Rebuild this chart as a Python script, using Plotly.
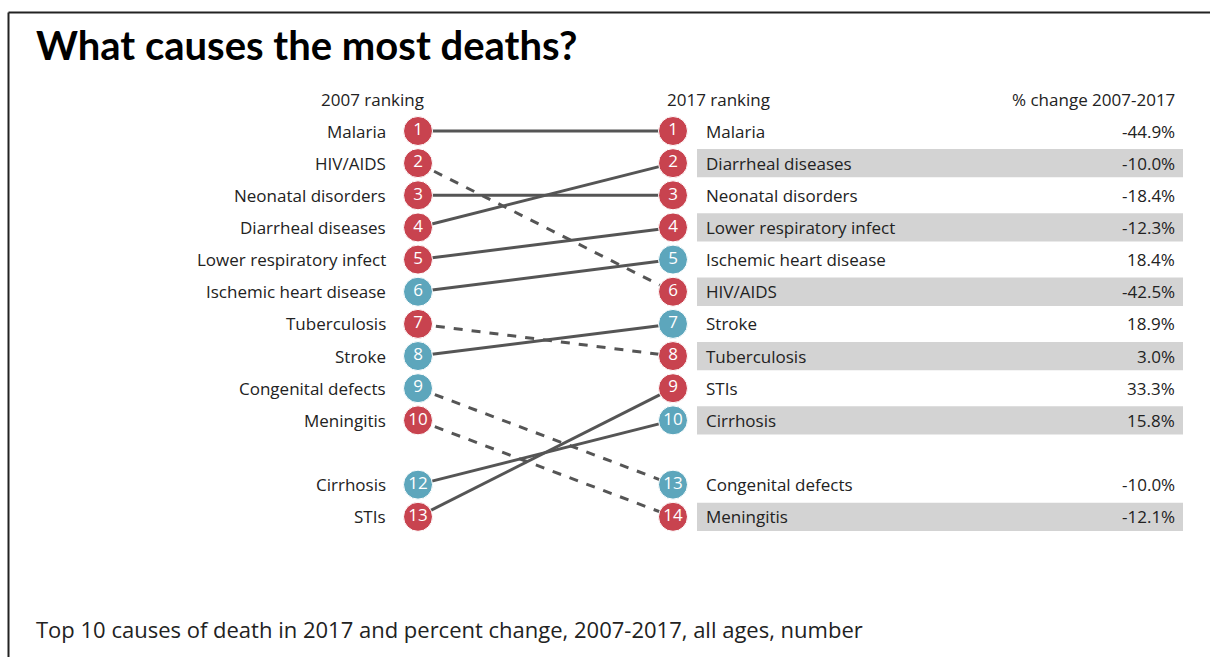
import plotly.graph_objects as go

# ---- data ----
causes = ["Malaria", "HIV/AIDS", "Neonatal disorders", "Diarrheal diseases",
          "Lower respiratory infect", "Ischemic heart disease", "Tuberculosis",
          "Stroke", "Congenital defects", "Meningitis", "Cirrhosis", "STIs"]
rank_2007 = [1, 2, 3, 4, 5, 6, 7, 8, 9, 10, 12, 13]
rank_2017 = [1, 6, 3, 2, 4, 5, 8, 7, 13, 14, 10, 9]
pct_change = [-44.9, -42.5, -18.4, -10.0, -12.3, 18.4, 3.0, 18.9, -10.0, -12.1, 15.8, 33.3]
group = ["comm", "comm", "comm", "comm", "comm", "ncd", "comm", "ncd", "ncd", "comm", "ncd", "comm"]

title = "What causes the most deaths?"
subtitle = "Top 10 causes of death in 2017 and percent change, 2007-2017, all ages, number"
headers = ["2007 ranking", "2017 ranking", "% change 2007-2017"]

colors = {"comm": "#c8434f", "ncd": "#5da6bc"}
W, H = 1210, 657
FONT = "Open Sans"
TFONT = "Lato"
TXT = "#222222"
FS = 17


def display_positions(ranks):
    order = sorted(range(len(ranks)), key=lambda i: ranks[i])
    pos = [0] * len(ranks)
    for k, i in enumerate(order):
        pos[i] = k + 1 if k < 10 else k + 2
    return pos, order


pos07, order07 = display_positions(rank_2007)
pos17, order17 = display_positions(rank_2017)

# pixel mapping
XL, XR = 418, 673
YT, DY = 131, 32.15
x_range = [-XL / (XR - XL), (W - XL) / (XR - XL)]
y_range = [1 + (H - YT) / DY, 1 - YT / DY]

fig = go.Figure()

# connecting lines
for i in range(len(causes)):
    dashed = rank_2017[i] > rank_2007[i]
    fig.add_trace(go.Scatter(
        x=[0, 1], y=[pos07[i], pos17[i]], mode="lines",
        line=dict(color="#555555", width=3, dash="dash" if dashed else "solid"),
        hoverinfo="skip", showlegend=False))

# circles
for xv, ranks, pos in [(0, rank_2007, pos07), (1, rank_2017, pos17)]:
    fig.add_trace(go.Scatter(
        x=[xv] * len(causes), y=pos, mode="markers+text",
        marker=dict(size=29, color=[colors[g] for g in group], line=dict(color="white", width=1)),
        text=[str(r) for r in ranks], textposition="middle center",
        textfont=dict(family=FONT, size=17, color="white"),
        hoverinfo="skip", showlegend=False))

shapes = []
annotations = []
band_x0 = 1 + (697 - XR) / (XR - XL)
band_x1 = 1 + (1183 - XR) / (XR - XL)
for k, i in enumerate(order17):
    if k % 2 == 1:
        shapes.append(dict(type="rect", xref="x", yref="y", layer="below",
                           x0=band_x0, x1=band_x1, y0=pos17[i] - 0.44, y1=pos17[i] + 0.44,
                           fillcolor="#d3d3d3", line=dict(width=0)))

for i in range(len(causes)):
    annotations.append(dict(x=0, y=pos07[i], xref="x", yref="y", text=causes[i],
                            xanchor="right", yanchor="middle", xshift=-30, showarrow=False,
                            font=dict(family=FONT, size=FS, color=TXT)))
    annotations.append(dict(x=1, y=pos17[i], xref="x", yref="y", text=causes[i],
                            xanchor="left", yanchor="middle", xshift=31, showarrow=False,
                            font=dict(family=FONT, size=FS, color=TXT)))
    annotations.append(dict(x=1, y=pos17[i], xref="x", yref="y", text=f"{pct_change[i]:.1f}%",
                            xanchor="right", yanchor="middle", xshift=1177 - XR, showarrow=False,
                            font=dict(family=FONT, size=FS, color=TXT)))

# headers
hy = 1 + (99 - YT) / DY
annotations.append(dict(x=0, y=hy, xref="x", yref="y", text=headers[0], xanchor="center",
                        yanchor="middle", xshift=372 - XL, showarrow=False,
                        font=dict(family=FONT, size=FS, color=TXT)))
annotations.append(dict(x=1, y=hy, xref="x", yref="y", text=headers[1], xanchor="left",
                        yanchor="middle", xshift=665 - XR, showarrow=False,
                        font=dict(family=FONT, size=FS, color=TXT)))
annotations.append(dict(x=1, y=hy, xref="x", yref="y", text=headers[2], xanchor="right",
                        yanchor="middle", xshift=1177 - XR, showarrow=False,
                        font=dict(family=FONT, size=FS, color=TXT)))

# title and subtitle
annotations.append(dict(x=34 / W, y=1 - 45 / H, xref="paper", yref="paper", text=f"<b>{title}</b>",
                        xanchor="left", yanchor="middle", showarrow=False,
                        font=dict(family=TFONT, size=40, color="#000000")))
annotations.append(dict(x=34 / W, y=1 - 629 / H, xref="paper", yref="paper", text=subtitle,
                        xanchor="left", yanchor="middle", showarrow=False,
                        font=dict(family=FONT, size=22, color=TXT)))

# border (top & left)
shapes.append(dict(type="line", xref="paper", yref="paper", x0=8.5 / W, x1=1, y0=1 - 12.5 / H, y1=1 - 12.5 / H,
                   line=dict(color="#222222", width=2)))
shapes.append(dict(type="line", xref="paper", yref="paper", x0=8.5 / W, x1=8.5 / W, y0=0, y1=1 - 12.5 / H,
                   line=dict(color="#222222", width=2)))

fig.update_layout(
    width=W, height=H, margin=dict(l=0, r=0, t=0, b=0),
    paper_bgcolor="white", plot_bgcolor="white",
    xaxis=dict(range=x_range, visible=False, fixedrange=True),
    yaxis=dict(range=y_range, visible=False, fixedrange=True),
    shapes=shapes, annotations=annotations, showlegend=False,
)

fig.write_html("out.html")
